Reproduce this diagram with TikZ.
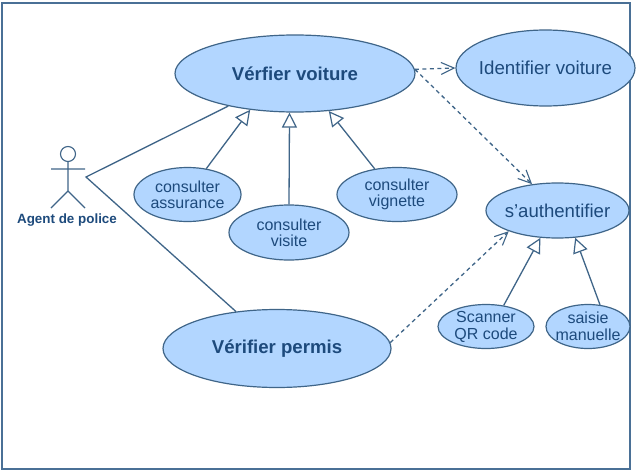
\documentclass[tikz,border=0pt]{standalone}
\usepackage{fontspec}
\setmainfont{Liberation Sans}
\usetikzlibrary{shapes.geometric,arrows.meta}
\definecolor{uefill}{HTML}{B2D6FF}
\definecolor{uestroke}{HTML}{3F6588}
\definecolor{uetext}{HTML}{1D4A7C}
\definecolor{frameblue}{HTML}{4A7096}
\newcommand{\fsz}[1]{\fontsize{#1}{#1}\selectfont}
\tikzset{
  x=1pt,y=-1pt,
  usecase/.style={ellipse,draw=uestroke,fill=uefill,line width=1.2pt,inner sep=-14pt,text=uetext,align=center},
  small/.style={usecase,font=\fsz{16}},
  link/.style={draw=uestroke,line width=1.3pt},
  gen/.style={link,-{Triangle[open,fill=white,length=15pt,width=15pt,line width=1.2pt]}},
  dep/.style={link,dash pattern=on 4pt off 3.5pt,-{Straight Barb[length=13pt,width=12pt,line width=1.1pt]}},
}
\begin{document}
\begin{tikzpicture}
\useasboundingbox (0,0) rectangle (637,471);
\node[draw=frameblue,line width=2pt,fill=white,minimum width=628pt,minimum height=466pt,inner sep=0pt] (frame) at (316,235.5) {};

\node[usecase,minimum width=240pt,minimum height=77pt,font=\fsz{18.6}\bfseries] (voiture) at (295,73.5) {Vérfier voiture};
\node[usecase,minimum width=179pt,minimum height=76pt,font=\fsz{18.7}] (identifier) at (545.5,68) {Identifier voiture};
\node[usecase,minimum width=143pt,minimum height=55pt,font=\fsz{18.6}] (auth) at (557.5,210.5) {s'authentifier};
\node[small,minimum width=107pt,minimum height=54pt] (assurance) at (187.5,194.5) {consulter\\[-0.2pt]assurance};
\node[small,minimum width=120pt,minimum height=55pt] (visite) at (289,232.5) {consulter\\[-0.2pt]visite};
\node[small,minimum width=120pt,minimum height=54pt] (vignette) at (397,194.5) {consulter\\[-0.2pt]vignette};
\node[usecase,minimum width=228pt,minimum height=78pt,font=\fsz{18.6}\bfseries] (permis) at (277,348.5) {Vérifier permis};
\node[small,minimum width=96pt,minimum height=44pt] (scanner) at (486,326.5) {Scanner\\[1pt]QR code};
\node[small,minimum width=84pt,minimum height=44pt] (saisie) at (588,326.5) {saisie\\[1pt]manuelle};

% actor
\node[circle,draw=uestroke,line width=1.1pt,fill=white,minimum size=15pt,inner sep=0pt] (head) at (68,154) {};
\coordinate (armL) at (51,169);
\coordinate (armR) at (85,169);
\coordinate (hip) at (68,191);
\coordinate (footL) at (51,208);
\coordinate (footR) at (85,208);
\coordinate (apex) at (86,177);
\draw[draw=uestroke,line width=1.1pt] (head.south) -- (hip) (armL) -- (armR) (footL) -- (hip) -- (footR);
\node[text=uetext,font=\fsz{13.4}\bfseries,inner sep=0pt] (actorlabel) at (67,220.5) {Agent de police};

% associations
\draw[link] (voiture.-154) -- (apex) -- (permis.138);

% generalisations
\draw[gen] (assurance.54.6) -- (voiture.-141.7);
\draw[gen] (visite.90) -- (voiture.-98.9);
\draw[gen] (vignette.131.5) -- (voiture.-48.8);
\draw[gen] (scanner.50.7) -- (auth.-122);
\draw[gen] (saisie.61.4) -- (auth.-57.5);

% dependencies
\draw[dep] (voiture.2.6) -- (identifier.180);
\draw[dep] (voiture.2.6) -- (auth.134);
\draw[dep] (permis.3) -- (auth.-157.5);
\end{tikzpicture}
\end{document}
